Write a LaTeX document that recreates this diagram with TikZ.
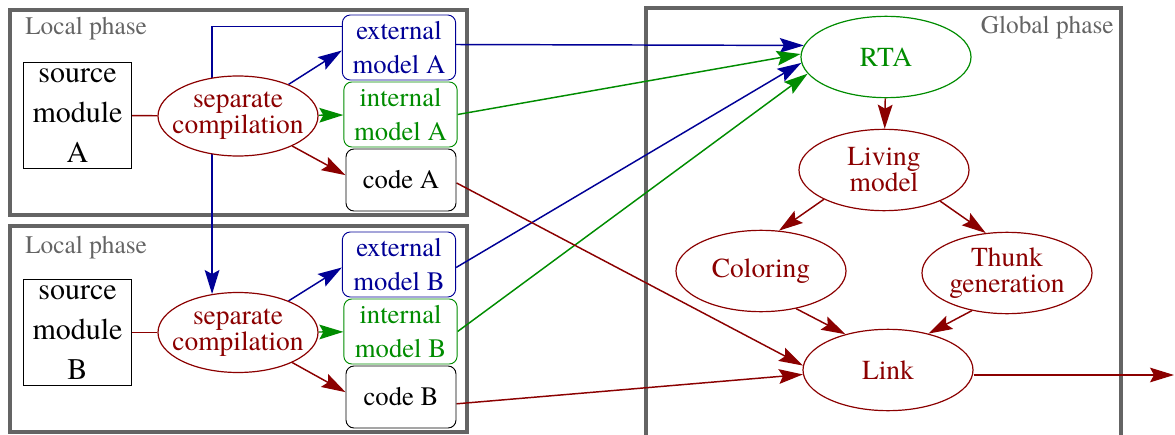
\documentclass[tikz,border=0pt]{standalone}
\usepackage{fontspec}
\setmainfont{texgyretermes}[Extension=.otf,UprightFont=*-regular,BoldFont=*-bold]
\usetikzlibrary{shapes.geometric,arrows.meta,backgrounds}

\definecolor{edgered}{RGB}{139,0,0}
\definecolor{edgeblue}{RGB}{0,0,150}
\definecolor{edgegreen}{RGB}{0,140,0}
\definecolor{phasegray}{RGB}{100,100,100}

\newcommand{\phasefont}{\fontsize{19}{23}\selectfont}
\newcommand{\srcfont}{\fontsize{22.5}{30}\selectfont}
\newcommand{\boxfont}{\fontsize{20}{26}\selectfont}
\newcommand{\ellfont}{\fontsize{20.6}{19.5}\selectfont}

\begin{document}
\begin{tikzpicture}[x=0.75pt,y=-0.75pt,
	phase/.style={draw=phasegray,line width=2.5pt,inner sep=0pt},
	phaselabel/.style={text=phasegray,font=\phasefont,inner sep=0pt},
	source/.style={draw=black,line width=0.7pt,align=center,font=\srcfont,minimum width=81pt,minimum height=80pt,inner sep=0pt,fill=white},
	model/.style={draw,rounded corners=6pt,line width=0.7pt,align=center,font=\boxfont,minimum width=85pt,minimum height=48.75pt,inner sep=0pt,fill=white},
	task/.style={shape=ellipse,draw=edgered,text=edgered,line width=0.9pt,align=center,font=\ellfont,inner xsep=-10pt,inner ysep=0pt,minimum width=127.5pt,minimum height=61pt,fill=white},
	flow/.style={line width=1.1pt,-{Stealth[length=18pt,width=11pt,inset=3pt]}},
]
	\useasboundingbox (0,0) rectangle (1175,435);

	% phases
	\begin{pgfonlayer}{background}
	\node[phase,minimum width=342.75pt,minimum height=153.75pt] (localA) at (238.5, 112.5) {};
	\node[phase,minimum width=342.75pt,minimum height=154.5pt] (localB) at (238.5, 329) {};
	\node[phase,minimum width=356.25pt,minimum height=331.5pt] (global) at (883.5, 229) {};
	\end{pgfonlayer}
	\node[phaselabel,anchor=base west] (labelA) at (25, 35)   {Local phase};
	\node[phaselabel,anchor=base west] (labelB) at (25, 253)  {Local phase};
	\node[phaselabel,anchor=base east] (labelG) at (1114, 34) {Global phase};

	% module A
	\node[source] (srcA) at (77.5, 115.5) {source\\module\\A};
	\node[task,minimum width=120pt,minimum height=60pt] (sepA) at (238, 116) {separate\\compilation};
	\node[model,draw=edgeblue,text=edgeblue] (extA) at (399, 47.5)  {external\\model A};
	\node[model,draw=edgegreen,text=edgegreen] (intA) at (400.5, 114.5) {internal\\model A};
	\node[model,minimum width=82.5pt,minimum height=46.5pt] (codeA) at (401, 180) {code A};

	% module B
	\node[source] (srcB) at (77.5, 332.5) {source\\module\\B};
	\node[task,minimum width=120pt,minimum height=60pt] (sepB) at (238, 332.5) {separate\\compilation};
	\node[model,draw=edgeblue,text=edgeblue] (extB) at (399, 264.5)  {external\\model B};
	\node[model,draw=edgegreen,text=edgegreen] (intB) at (400.5, 331.5) {internal\\model B};
	\node[model,minimum width=82.5pt,minimum height=46.5pt] (codeB) at (401, 397) {code B};

	% global
	\node[task,draw=edgegreen,text=edgegreen] (rta) at (886, 57) {RTA};
	\node[task] (living)   at (884, 170)  {Living\\model};
	\node[task] (coloring) at (761, 271)  {Coloring};
	\node[task] (thunk)    at (1007, 273) {Thunk\\generation};
	\node[task] (link)     at (888, 370)  {Link};
	\coordinate (out) at (1174, 375);

	\begin{pgfonlayer}{background}
	\path[draw=edgered,line width=1.1pt] (srcA) -- (sepA);
	\path[flow,color=edgeblue] (sepA.32) edge (extA.183);
	\path[flow,color=edgegreen] (sepA) edge (intA);
	\path[flow,color=edgered] (sepA.-29) edge (codeA.175);

	\path[draw=edgered,line width=1.1pt] (srcB) -- (sepB);
	\path[flow,color=edgeblue] (sepB.32) edge (extB.183);
	\path[flow,color=edgegreen] (sepB) edge (intB);
	\path[flow,color=edgered] (sepB.-29) edge (codeB.175);

	\draw[flow,color=edgeblue] (extA.160) -| (sepB.124);

	\path[flow,color=edgeblue] (extA.3) edge (rta.172);
	\path[flow,color=edgegreen] (intA.east) edge (rta.178);
	\path[flow,color=edgeblue] (extB.-3) edge (rta.184);
	\path[flow,color=edgegreen] (intB.east) edge (rta.192);
	\path[flow,color=edgered] (codeA.-3) edge (link.177);
	\path[flow,color=edgered] (codeB.-7) edge (link.183);

	\path[flow,color=edgered] (rta) edge (living);
	\path[flow,color=edgered] (living.206) edge (coloring.66);
	\path[flow,color=edgered] (living.-29) edge (thunk.118);
	\path[flow,color=edgered] (coloring.-47) edge (link.140);
	\path[flow,color=edgered] (thunk.227) edge (link.42);
	\path[flow,color=edgered] (link.east |- out) edge (out);
	\end{pgfonlayer}
\end{tikzpicture}
\end{document}
